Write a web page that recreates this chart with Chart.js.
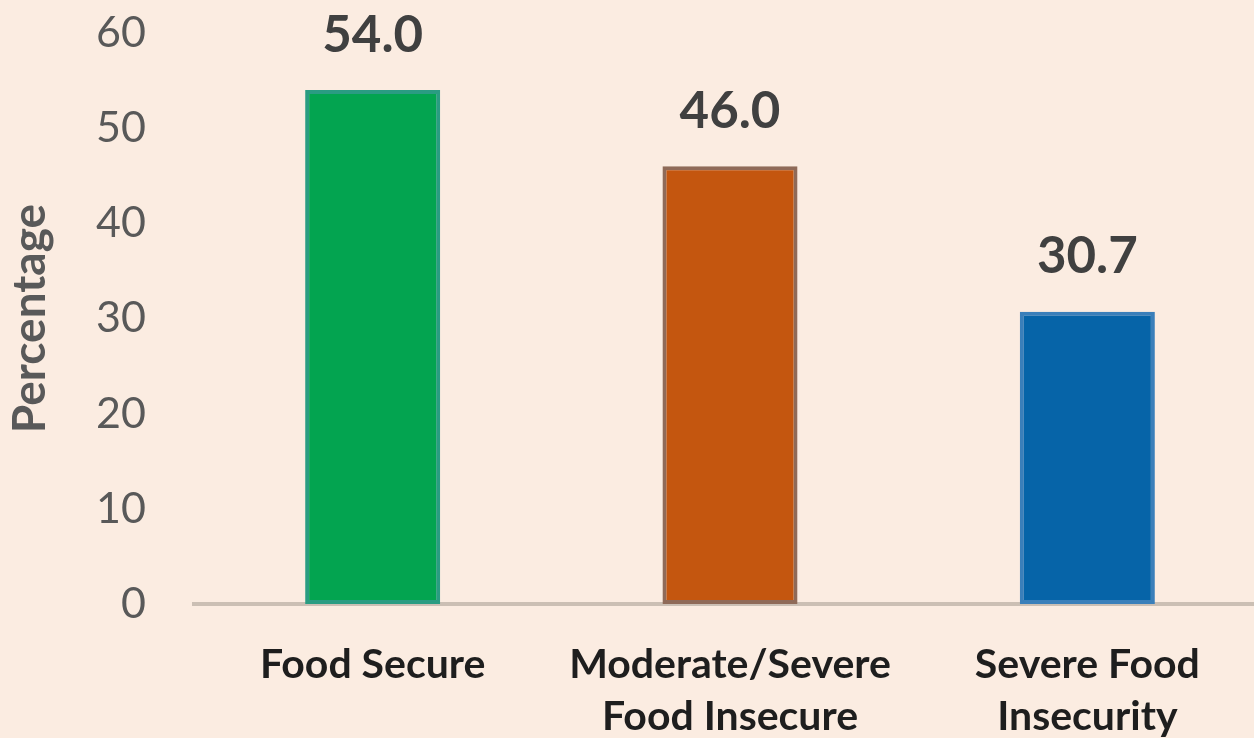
<!DOCTYPE html>
<html>
<head>
<meta charset="utf-8">
<script src="https://cdn.jsdelivr.net/npm/chart.js@4.4.1/dist/chart.umd.min.js"></script>
<style>
  html, body { margin: 0; padding: 0; background: #FBECE1; overflow: hidden; }
  #wrap { width: 1254px; height: 738px; position: relative; overflow: hidden; }
</style>
</head>
<body>
<div id="wrap"><canvas id="c" width="1266" height="738"></canvas></div>
<script>
const categories = [["Food Secure"], ["Moderate/Severe", "Food Insecure"], ["Severe Food", "Insecurity"]];
const values = [54.0, 46.0, 30.7];
const valueLabels = ["54.0", "46.0", "30.7"];
const barColors = ["#03A450", "#C4560F", "#0664A8"];
const barBorders = ["#2A9C82", "#8F6A58", "#3A7FBA"];
const yTicks = [0, 10, 20, 30, 40, 50, 60];

const FONT = "Lato, 'Open Sans', sans-serif";

const bgPlugin = {
  id: 'bg',
  beforeDraw(chart) {
    const ctx = chart.ctx;
    ctx.save();
    ctx.fillStyle = '#FBECE1';
    ctx.fillRect(0, 0, chart.width, chart.height);
    ctx.restore();
  }
};

const labelPlugin = {
  id: 'vlabels',
  afterDatasetsDraw(chart) {
    const ctx = chart.ctx;
    const meta = chart.getDatasetMeta(0);
    ctx.save();
    ctx.font = "bold 51px " + FONT;
    ctx.fillStyle = '#404040';
    ctx.textAlign = 'center';
    ctx.textBaseline = 'middle';
    meta.data.forEach((bar, i) => {
      ctx.fillText(valueLabels[i], bar.x, bar.y - 55);
    });
    ctx.restore();
  }
};

new Chart(document.getElementById('c'), {
  type: 'bar',
  data: {
    labels: categories,
    datasets: [{
      data: values,
      backgroundColor: barColors,
      borderColor: barBorders,
      borderWidth: 4,
      borderSkipped: false,
      categoryPercentage: 1.0,
      barPercentage: 0.378
    }]
  },
  options: {
    responsive: false,
    animation: false,
    devicePixelRatio: 1,
    layout: { padding: { top: 33, right: 0, left: 0, bottom: 0 } },
    plugins: { legend: { display: false }, tooltip: { enabled: false } },
    scales: {
      x: {
        grid: { display: false, drawTicks: false },
        border: { display: true, color: '#CBBFB4', width: 4 },
        ticks: {
          color: '#1E1E1E',
          font: { family: FONT, size: 41, weight: 'bold', lineHeight: 1.27 },
          padding: 35,
          maxRotation: 0,
          autoSkip: false
        },
        afterFit(scale) { scale.height = 134; }
      },
      y: {
        min: 0,
        max: 60,
        afterBuildTicks(scale) { scale.ticks = yTicks.map(v => ({ value: v })); },
        grid: { display: false, drawTicks: false },
        border: { display: false },
        ticks: {
          color: '#595959',
          font: { family: FONT, size: 43 },
          padding: 48
        },
        title: {
          display: true,
          text: 'Percentage',
          color: '#595959',
          font: { family: FONT, size: 46, weight: 'bold' },
          padding: { top: 3, bottom: 0 }
        },
        afterFit(scale) {
          scale.width = 194;
          scale.paddingTop = 0;
          scale.paddingBottom = 0;
        }
      }
    }
  },
  plugins: [bgPlugin, labelPlugin]
});
</script>
</body>
</html>
